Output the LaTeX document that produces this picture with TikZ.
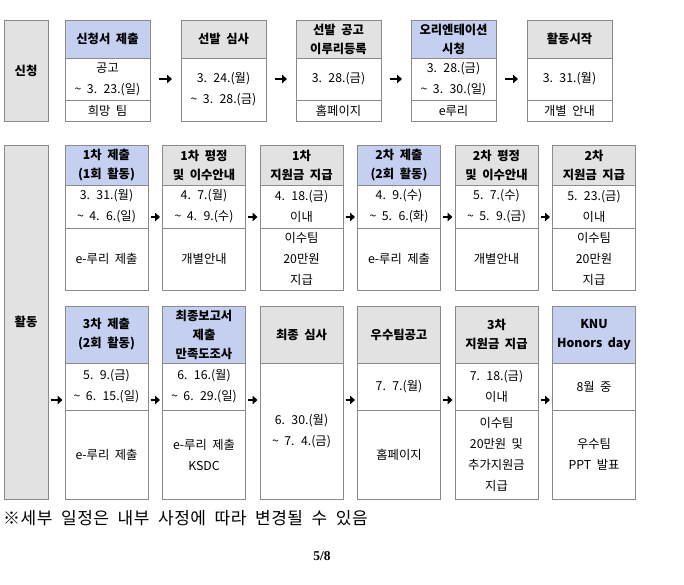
\documentclass[tikz,border=0pt]{standalone}
\usepackage{fontspec}
\setmainfont{Noto Sans CJK KR}[WordSpace=2]
\newfontfamily\pagenofont{Liberation Serif}
\usetikzlibrary{arrows.meta,positioning}

\definecolor{hdblue}{HTML}{C5D0F0}
\definecolor{hdgray}{HTML}{E2E2E2}
\definecolor{edge}{HTML}{8A8A8A}
\newcommand{\upto}{\textasciitilde\ }

\begin{document}
\begin{tikzpicture}[
  x=1pt, y=-1pt,
  cell/.style={draw=edge,line width=0.7pt,outer sep=0pt,inner sep=0pt,anchor=north west,
    align=center,font=\fontsize{12.3}{21}\selectfont},
  widecell/.style={cell,minimum width=85pt},
  slimcell/.style={cell,minimum width=83pt},
  bluehead/.style={fill=hdblue,font=\bfseries\fontsize{12.3}{19}\selectfont},
  grayhead/.style={fill=hdgray,font=\bfseries\fontsize{12.3}{19}\selectfont},
  phase/.style={cell,fill=hdgray,minimum width=44pt,font=\bfseries\fontsize{12.3}{14}\selectfont},
  flow/.style={-{Triangle[length=5pt,width=8.5pt]},line width=2.2pt},
  flowwide/.style={flow,shorten <=9pt,shorten >=9pt},
  flowslim/.style={flow,shorten <=2.5pt,shorten >=2.5pt}
]
  \useasboundingbox (0,0) rectangle (684,585);

  % 신청 단계
  \node[phase,minimum height=101pt] (apply) at (4,20) {신청};

  \node[widecell,bluehead,minimum height=38pt] (a1h) at (65,20) {신청서 제출};
  \node[widecell,minimum height=42pt,below=0pt of a1h] (a1d) {공고\\\upto 3. 23.(일)};
  \node[widecell,minimum height=21pt,below=0pt of a1d] (a1n) {희망 팀};

  \node[widecell,grayhead,minimum height=38pt] (a2h) at (181,20) {선발 심사};
  \node[widecell,minimum height=63pt,below=0pt of a2h] (a2d) {3. 24.(월)\\\upto 3. 28.(금)};

  \node[widecell,grayhead,minimum height=38pt] (a3h) at (296,20) {선발 공고\\이루리등록};
  \node[widecell,minimum height=42pt,below=0pt of a3h] (a3d) {3. 28.(금)};
  \node[widecell,minimum height=21pt,below=0pt of a3d] (a3n) {홈페이지};

  \node[widecell,bluehead,minimum height=38pt] (a4h) at (411,20) {오리엔테이션\\시청};
  \node[widecell,minimum height=42pt,below=0pt of a4h] (a4d) {3. 28.(금)\\\upto 3. 30.(일)};
  \node[widecell,minimum height=21pt,below=0pt of a4d] (a4n) {e루리};

  \node[widecell,grayhead,minimum height=38pt] (a5h) at (527,20) {활동시작};
  \node[widecell,minimum height=42pt,below=0pt of a5h] (a5d) {3. 31.(월)};
  \node[widecell,minimum height=21pt,below=0pt of a5d] (a5n) {개별 안내};

  \coordinate (r1) at (0,79);
  \draw[flowwide] (a1d.east |- r1) -- (a2d.west |- r1);
  \draw[flowwide] (a2d.east |- r1) -- (a3d.west |- r1);
  \draw[flowwide] (a3d.east |- r1) -- (a4d.west |- r1);
  \draw[flowwide] (a4d.east |- r1) -- (a5d.west |- r1);

  % 활동 단계
  \node[phase,minimum height=354pt] (act) at (4,145) {활동};

  \node[slimcell,bluehead,minimum height=40pt] (b1h) at (65,145) {1차 제출\\(1회 활동)};
  \node[slimcell,minimum height=43pt,below=0pt of b1h] (b1d) {3. 31.(월)\\\upto 4. 6.(일)};
  \node[slimcell,minimum height=62pt,below=0pt of b1d] (b1n) {e-루리 제출};

  \node[slimcell,grayhead,minimum height=40pt] (b2h) at (162.5,145) {1차 평정\\및 이수안내};
  \node[slimcell,minimum height=43pt,below=0pt of b2h] (b2d) {4. 7.(월)\\\upto 4. 9.(수)};
  \node[slimcell,minimum height=62pt,below=0pt of b2d] (b2n) {개별안내};

  \node[slimcell,grayhead,minimum height=40pt] (b3h) at (260,145) {1차\\지원금 지급};
  \node[slimcell,minimum height=43pt,below=0pt of b3h] (b3d) {4. 18.(금)\\이내};
  \node[slimcell,minimum height=62pt,below=0pt of b3d] (b3n) {이수팀\\20만원\\지급};

  \node[slimcell,bluehead,minimum height=40pt] (b4h) at (357.5,145) {2차 제출\\(2회 활동)};
  \node[slimcell,minimum height=43pt,below=0pt of b4h] (b4d) {4. 9.(수)\\\upto 5. 6.(화)};
  \node[slimcell,minimum height=62pt,below=0pt of b4d] (b4n) {e-루리 제출};

  \node[slimcell,grayhead,minimum height=40pt] (b5h) at (455,145) {2차 평정\\및 이수안내};
  \node[slimcell,minimum height=43pt,below=0pt of b5h] (b5d) {5. 7.(수)\\\upto 5. 9.(금)};
  \node[slimcell,minimum height=62pt,below=0pt of b5d] (b5n) {개별안내};

  \node[slimcell,grayhead,minimum height=40pt] (b6h) at (552.5,145) {2차\\지원금 지급};
  \node[slimcell,minimum height=43pt,below=0pt of b6h] (b6d) {5. 23.(금)\\이내};
  \node[slimcell,minimum height=62pt,below=0pt of b6d] (b6n) {이수팀\\20만원\\지급};

  \coordinate (r2) at (0,217);
  \draw[flowslim] (b1d.east |- r2) -- (b2d.west |- r2);
  \draw[flowslim] (b2d.east |- r2) -- (b3d.west |- r2);
  \draw[flowslim] (b3d.east |- r2) -- (b4d.west |- r2);
  \draw[flowslim] (b4d.east |- r2) -- (b5d.west |- r2);
  \draw[flowslim] (b5d.east |- r2) -- (b6d.west |- r2);

  \node[slimcell,bluehead,minimum height=57pt] (c1h) at (65,306) {3차 제출\\(2회 활동)};
  \node[slimcell,minimum height=47pt,below=0pt of c1h] (c1d) {5. 9.(금)\\\upto 6. 15.(일)};
  \node[slimcell,minimum height=89pt,below=0pt of c1d] (c1n) {e-루리 제출};

  \node[slimcell,bluehead,minimum height=57pt] (c2h) at (162.5,306) {최종보고서\\제출\\만족도조사};
  \node[slimcell,minimum height=47pt,below=0pt of c2h] (c2d) {6. 16.(월)\\\upto 6. 29.(일)};
  \node[slimcell,minimum height=89pt,below=0pt of c2d] (c2n) {e-루리 제출\\KSDC};

  \node[slimcell,grayhead,minimum height=57pt] (c3h) at (260,306) {최종 심사};
  \node[slimcell,minimum height=136pt,below=0pt of c3h] (c3d) {6. 30.(월)\\\upto 7. 4.(금)};

  \node[slimcell,grayhead,minimum height=57pt] (c4h) at (357.5,306) {우수팀공고};
  \node[slimcell,minimum height=47pt,below=0pt of c4h] (c4d) {7. 7.(월)};
  \node[slimcell,minimum height=89pt,below=0pt of c4d] (c4n) {홈페이지};

  \node[slimcell,grayhead,minimum height=57pt] (c5h) at (455,306) {3차\\지원금 지급};
  \node[slimcell,minimum height=47pt,below=0pt of c5h] (c5d) {7. 18.(금)\\이내};
  \node[slimcell,minimum height=89pt,below=0pt of c5d] (c5n) {이수팀\\20만원 및\\추가지원금\\지급};

  \node[slimcell,bluehead,minimum height=57pt] (c6h) at (552.5,306) {KNU\\Honors day};
  \node[slimcell,minimum height=47pt,below=0pt of c6h] (c6d) {8월 중};
  \node[slimcell,minimum height=89pt,below=0pt of c6d] (c6n) {우수팀\\PPT 발표};

  \coordinate (r3) at (0,400);
  \draw[flowslim] (act.east |- r3) -- (c1d.west |- r3);
  \draw[flowslim] (c1d.east |- r3) -- (c2d.west |- r3);
  \draw[flowslim] (c2d.east |- r3) -- (c3d.west |- r3);
  \draw[flowslim] (c3d.east |- r3) -- (c4d.west |- r3);
  \draw[flowslim] (c4d.east |- r3) -- (c5d.west |- r3);
  \draw[flowslim] (c5d.east |- r3) -- (c6d.west |- r3);

  % 비고
  \node[anchor=west,inner sep=0pt,font=\fontsize{17}{19}\selectfont\addfontfeatures{LetterSpace=3}] (memo) at (3,518)
    {※세부 일정은 내부 사정에 따라 변경될 수 있음};
  \node[inner sep=0pt,font=\pagenofont\bfseries\fontsize{13.5}{15}\selectfont] (pageno) at (322,556) {5/8};
\end{tikzpicture}
\end{document}
